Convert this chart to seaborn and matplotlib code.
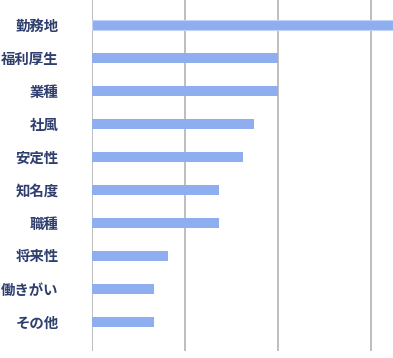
import pandas as pd
import seaborn as sns
import matplotlib
matplotlib.use('Agg')
import matplotlib.pyplot as plt

# =========================
#  DATA
# =========================

labels = ['勤務地', '福利厚生', '業種', '社風', '安定性',
          '知名度', '職種', '将来性', '働きがい', 'その他']
values = [32.4, 20.0, 20.0, 17.4, 16.2, 13.7, 13.7, 8.2, 6.7, 6.7]
grid_ticks = [0, 10, 20, 30]

BAR_COLOR = '#8faef0'
TEXT_COLOR = '#2e3f6e'
GRID_COLOR = '#b3b3b3'


# =========================
#  PLOT
# =========================

def plot_bars():
    sns.set_theme(style='white')
    plt.rcParams['font.family'] = ['Noto Sans CJK JP', 'DejaVu Sans']

    data = pd.DataFrame({'label': labels, 'value': values})

    fig = plt.figure(figsize=(3.93, 3.58), dpi=100)
    ax = fig.add_axes([92 / 393, 7 / 358, (393 - 92) / 393, 355 / 358])

    sns.barplot(data=data, x='value', y='label', color=BAR_COLOR,
                width=0.31, saturation=1, linewidth=0, ax=ax, zorder=3)

    # first bar looks highlighted (lighter border)
    first = ax.patches[0]
    first.set_edgecolor('#c3d3f7')
    first.set_linewidth(0.8)

    ax.set_xlim(0, 32.4)
    ax.set_ylim(9.88, -0.88)
    ax.set_xticks(grid_ticks)
    ax.set_xticklabels([])
    ax.xaxis.grid(True, color=GRID_COLOR, linewidth=1.2, zorder=0)
    ax.yaxis.grid(False)

    for side in ['top', 'right', 'bottom', 'left']:
        ax.spines[side].set_visible(False)

    ax.set_xlabel('')
    ax.set_ylabel('')
    ax.tick_params(axis='both', length=0)
    ax.tick_params(axis='y', pad=24)
    for t in ax.get_yticklabels():
        t.set_color(TEXT_COLOR)
        t.set_fontsize(10.4)
        t.set_fontweight('bold')

    fig.savefig('out.png', dpi=100)
    plt.close(fig)


def main():
    plot_bars()


if __name__ == '__main__':
    main()
